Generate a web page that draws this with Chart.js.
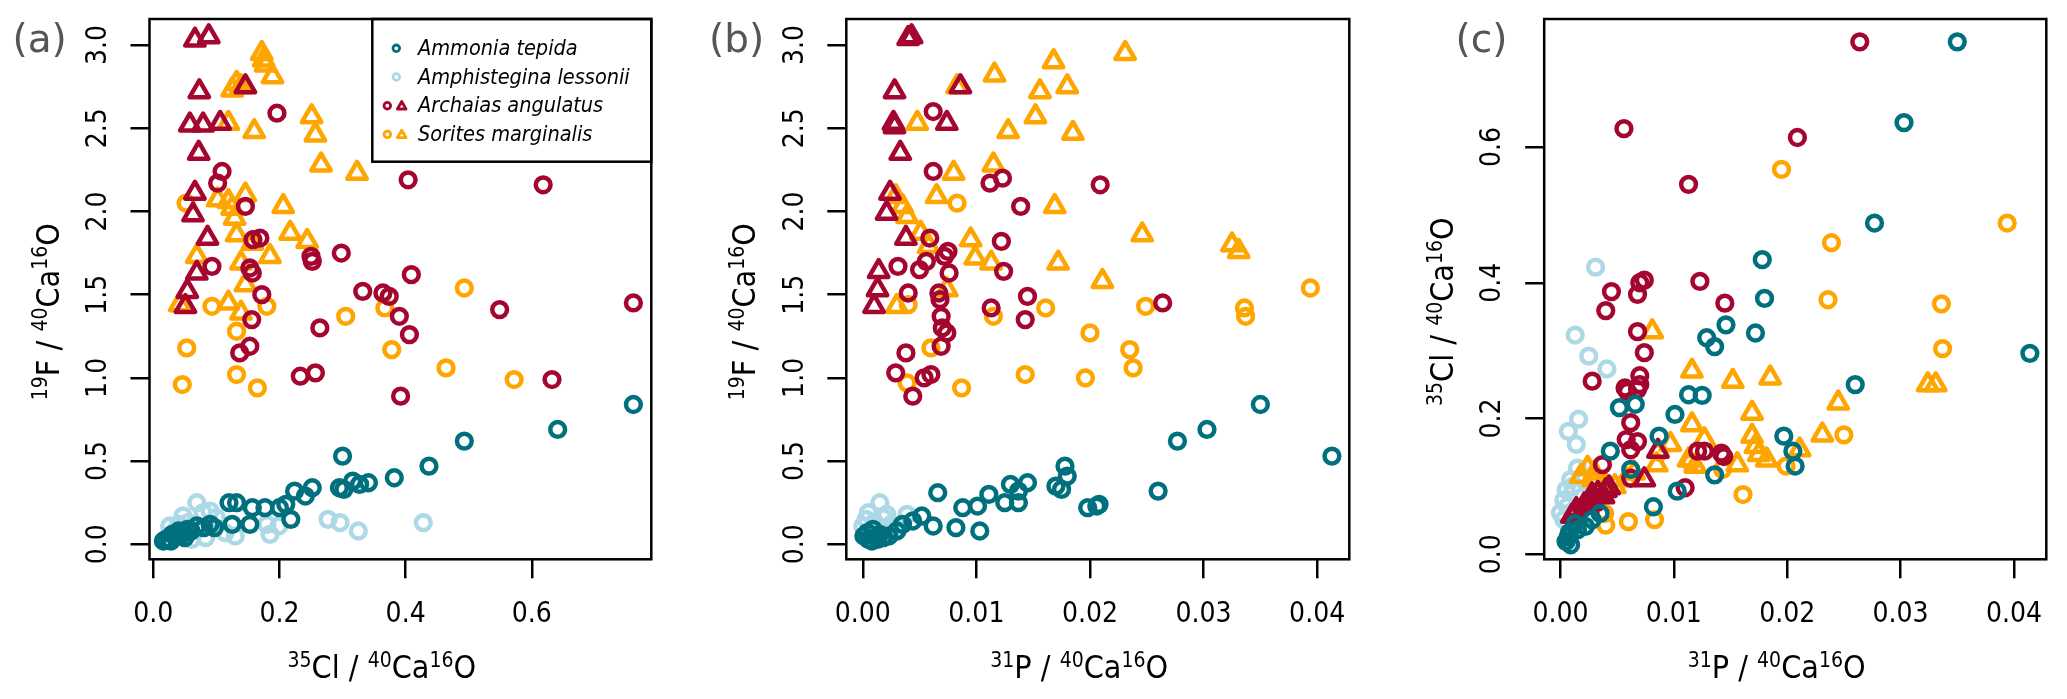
<!DOCTYPE html>
<html lang="en">
<head>
<meta charset="UTF-8">
<title>Foraminifera element ratios</title>
<script src="https://cdn.jsdelivr.net/npm/chart.js"></script>
<style>
  body {
    margin: 0;
    background: #fff;
    width: 2067px;
    height: 699px;
    overflow: hidden;
    position: relative;
  }
  .panel {
    position: absolute;
    top: 0;
    height: 699px;
  }
</style>
</head>
<body>

<div class="panel" id="panel-a"><canvas id="chart-a"></canvas></div>
<div class="panel" id="panel-b"><canvas id="chart-b"></canvas></div>
<div class="panel" id="panel-c"><canvas id="chart-c"></canvas></div>

<script>
// ---- data: panel (a)  x = 35Cl/40Ca16O, y = 19F/40Ca16O ----
const clF_ammonia = [[0.761,0.84],[0.641,0.69],[0.493,0.62],[0.437,0.47],[0.382,0.40],[0.300,0.53],
  [0.341,0.37],[0.327,0.36],[0.316,0.38],[0.302,0.33],[0.295,0.34],[0.252,0.34],[0.241,0.29],
  [0.224,0.32],[0.210,0.24],[0.218,0.15],[0.200,0.22],[0.177,0.22],[0.157,0.22],[0.132,0.25],
  [0.120,0.25],[0.153,0.12],[0.125,0.12],[0.097,0.10],[0.069,0.11],[0.054,0.09],[0.040,0.08],
  [0.030,0.06],[0.020,0.03],[0.016,0.02],[0.025,0.03],[0.035,0.05],[0.045,0.06],[0.060,0.08],
  [0.080,0.10],[0.090,0.12],[0.028,0.02],[0.050,0.04]];
const clF_amphistegina = [[0.069,0.25],[0.047,0.17],[0.079,0.19],[0.026,0.11],[0.040,0.12],[0.114,0.07],
  [0.185,0.06],[0.199,0.11],[0.277,0.15],[0.296,0.13],[0.325,0.08],[0.428,0.13],[0.061,0.03],
  [0.083,0.04],[0.180,0.12],[0.100,0.16],[0.035,0.08],[0.055,0.13],[0.090,0.20],[0.130,0.05]];
const clF_archaiasCirc = [[0.196,2.59],[0.109,2.24],[0.102,2.17],[0.146,2.03],[0.404,2.19],[0.618,2.16],
  [0.158,1.83],[0.169,1.84],[0.093,1.67],[0.153,1.66],[0.157,1.63],[0.250,1.73],[0.252,1.70],
  [0.298,1.75],[0.409,1.62],[0.172,1.50],[0.332,1.52],[0.364,1.51],[0.374,1.49],[0.549,1.41],
  [0.761,1.45],[0.156,1.35],[0.390,1.37],[0.406,1.26],[0.264,1.30],[0.137,1.15],[0.153,1.19],
  [0.233,1.01],[0.257,1.03],[0.632,0.99],[0.392,0.89]];
const clF_archaiasTri = [[0.066,3.03],[0.088,3.05],[0.073,2.72],[0.146,2.75],[0.058,2.52],[0.079,2.52],
  [0.106,2.53],[0.072,2.35],[0.066,2.11],[0.063,1.98],[0.086,1.84],[0.069,1.63],[0.054,1.52],[0.051,1.43]];
const clF_soritesCirc = [[0.052,2.05],[0.093,1.43],[0.180,1.43],[0.305,1.37],[0.367,1.42],[0.493,1.54],
  [0.132,1.28],[0.053,1.18],[0.378,1.17],[0.046,0.96],[0.132,1.02],[0.165,0.94],[0.464,1.06],[0.572,0.99]];
const clF_soritesTri = [[0.172,2.95],[0.175,2.91],[0.178,2.88],[0.189,2.81],[0.132,2.77],[0.125,2.73],
  [0.139,2.75],[0.119,2.53],[0.160,2.48],[0.251,2.57],[0.257,2.46],[0.266,2.28],[0.323,2.23],
  [0.102,2.07],[0.119,2.06],[0.125,2.02],[0.146,2.10],[0.206,2.03],[0.129,1.96],[0.132,1.86],
  [0.217,1.87],[0.244,1.82],[0.069,1.73],[0.139,1.69],[0.185,1.73],[0.146,1.56],[0.119,1.45],
  [0.042,1.44],[0.139,1.39],[0.157,1.81]];

// ---- data: panel (b)  x = 31P/40Ca16O, y = 19F/40Ca16O ----
const pF_ammonia = [[0.0413,0.53],[0.0350,0.84],[0.0303,0.69],[0.0277,0.62],[0.0260,0.32],[0.0178,0.47],
  [0.0180,0.41],[0.0175,0.33],[0.0170,0.35],[0.0198,0.22],[0.0206,0.23],[0.0208,0.24],[0.0145,0.37],
  [0.0130,0.36],[0.0137,0.32],[0.0137,0.25],[0.0125,0.25],[0.0111,0.30],[0.0101,0.23],[0.0088,0.22],
  [0.0066,0.31],[0.0082,0.10],[0.0103,0.08],[0.0062,0.11],[0.0052,0.17],[0.0044,0.14],[0.0035,0.12],
  [0.0023,0.05],[0.0013,0.03],[0.0005,0.03],[0.0001,0.05],[0.0009,0.09],[0.0008,0.02],[0.0015,0.06],
  [0.0030,0.08],[0.0004,0.07],[0.0018,0.04]];
const pF_amphistegina = [[0.0015,0.25],[0.0005,0.19],[0.0021,0.18],[0.0000,0.11],[0.0003,0.15],[0.0039,0.18],
  [0.0010,0.13],[0.0012,0.08],[0.0025,0.12],[0.0007,0.05],[0.0018,0.16],[0.0030,0.10]];
const pF_archaiasCirc = [[0.0062,2.60],[0.0062,2.24],[0.0112,2.17],[0.0123,2.20],[0.0209,2.16],[0.0139,2.03],
  [0.0059,1.84],[0.0122,1.82],[0.0075,1.76],[0.0072,1.73],[0.0056,1.70],[0.0050,1.65],[0.0031,1.67],
  [0.0076,1.63],[0.0124,1.64],[0.0040,1.51],[0.0067,1.51],[0.0068,1.47],[0.0145,1.49],[0.0264,1.45],
  [0.0113,1.42],[0.0069,1.37],[0.0070,1.30],[0.0074,1.27],[0.0143,1.35],[0.0038,1.15],[0.0029,1.03],
  [0.0054,1.00],[0.0060,1.02],[0.0044,0.89],[0.0069,1.19]];
const pF_archaiasTri = [[0.0040,3.04],[0.0043,3.05],[0.0028,2.72],[0.0086,2.75],[0.0027,2.53],[0.0028,2.51],
  [0.0074,2.53],[0.0033,2.35],[0.0024,2.11],[0.0021,1.99],[0.0038,1.84],[0.0014,1.64],[0.0013,1.53],[0.0010,1.43]];
const pF_soritesCirc = [[0.0083,2.05],[0.0040,1.44],[0.0161,1.42],[0.0249,1.43],[0.0336,1.42],[0.0337,1.37],
  [0.0394,1.54],[0.0115,1.37],[0.0200,1.27],[0.0235,1.17],[0.0060,1.18],[0.0238,1.06],[0.0143,1.02],
  [0.0196,1.00],[0.0087,0.94],[0.0039,0.97]];
const pF_soritesTri = [[0.0116,2.82],[0.0168,2.90],[0.0231,2.95],[0.0180,2.75],[0.0156,2.72],[0.0152,2.57],
  [0.0128,2.48],[0.0185,2.47],[0.0083,2.75],[0.0048,2.53],[0.0080,2.23],[0.0115,2.28],[0.0065,2.09],
  [0.0029,2.09],[0.0035,2.03],[0.0039,1.97],[0.0169,2.03],[0.0246,1.86],[0.0325,1.80],[0.0331,1.76],
  [0.0095,1.83],[0.0099,1.72],[0.0113,1.69],[0.0051,1.87],[0.0058,1.79],[0.0172,1.69],[0.0211,1.58],
  [0.0030,1.43],[0.0074,1.53]];

// ---- data: panel (c)  x = 31P/40Ca16O, y = 35Cl/40Ca16O ----
const pCl_ammonia = [[0.0350,0.755],[0.0303,0.636],[0.0277,0.488],[0.0178,0.434],[0.0180,0.377],[0.0146,0.338],
  [0.0172,0.326],[0.0129,0.319],[0.0136,0.306],[0.0414,0.296],[0.0260,0.250],[0.0113,0.235],[0.0125,0.234],
  [0.0052,0.216],[0.0066,0.221],[0.0101,0.206],[0.0087,0.174],[0.0197,0.174],[0.0205,0.152],[0.0207,0.130],
  [0.0044,0.152],[0.0062,0.125],[0.0136,0.117],[0.0103,0.093],[0.0082,0.070],[0.0022,0.041],[0.0015,0.036],
  [0.0007,0.026],[0.0005,0.019],[0.0009,0.014],[0.0028,0.051],[0.0013,0.045],[0.0035,0.060],[0.0008,0.032]];
const pCl_amphistegina = [[0.0031,0.423],[0.0013,0.323],[0.0025,0.292],[0.0041,0.273],[0.0016,0.199],
  [0.0007,0.181],[0.0014,0.162],[0.0015,0.127],[0.0009,0.110],[0.0005,0.095],[0.0003,0.080],[0.0000,0.061],
  [0.0003,0.051],[0.0011,0.100],[0.0020,0.085],[0.0006,0.070]];
const pCl_archaiasCirc = [[0.0264,0.755],[0.0056,0.627],[0.0209,0.614],[0.0113,0.545],[0.0074,0.404],
  [0.0070,0.400],[0.0123,0.402],[0.0045,0.387],[0.0068,0.383],[0.0040,0.359],[0.0145,0.370],[0.0068,0.328],
  [0.0074,0.297],[0.0028,0.255],[0.0070,0.263],[0.0070,0.250],[0.0068,0.243],[0.0057,0.245],[0.0059,0.240],
  [0.0062,0.194],[0.0058,0.169],[0.0068,0.166],[0.0062,0.154],[0.0121,0.152],[0.0127,0.152],[0.0142,0.149],
  [0.0144,0.144],[0.0062,0.112],[0.0110,0.098],[0.0037,0.132]];
const pCl_archaiasTri = [[0.0086,0.152],[0.0074,0.110],[0.0043,0.098],[0.0040,0.094],[0.0038,0.085],
  [0.0033,0.090],[0.0028,0.080],[0.0028,0.088],[0.0027,0.075],[0.0024,0.070],[0.0021,0.073],[0.0014,0.066],
  [0.0013,0.061],[0.0010,0.056]];
const pCl_soritesCirc = [[0.0195,0.567],[0.0239,0.459],[0.0394,0.488],[0.0236,0.375],[0.0336,0.369],
  [0.0337,0.303],[0.0250,0.176],[0.0199,0.130],[0.0161,0.088],[0.0083,0.051],[0.0060,0.048],[0.0040,0.043],
  [0.0115,0.135],[0.0143,0.125],[0.0087,0.150],[0.0039,0.060]];
const pCl_soritesTri = [[0.0116,0.270],[0.0152,0.255],[0.0185,0.260],[0.0324,0.250],[0.0331,0.250],
  [0.0245,0.223],[0.0169,0.208],[0.0116,0.191],[0.0231,0.176],[0.0169,0.174],[0.0172,0.159],[0.0127,0.169],
  [0.0097,0.162],[0.0211,0.154],[0.0175,0.147],[0.0182,0.139],[0.0113,0.139],[0.0119,0.130],[0.0156,0.132],
  [0.0085,0.132],[0.0024,0.127],[0.0030,0.120],[0.0018,0.115],[0.0081,0.328],[0.0065,0.120],[0.0058,0.110],
  [0.0048,0.100],[0.0039,0.105],[0.0029,0.110]];

// ---- axis ticks ----
const ticksF = [0, 0.5, 1.0, 1.5, 2.0, 2.5, 3.0];
const ticksCl = [0, 0.2, 0.4, 0.6];
const ticksP = [0, 0.01, 0.02, 0.03, 0.04];

const speciesNames = ['Ammonia tepida', 'Amphistegina lessonii', 'Archaias angulatus', 'Sorites marginalis'];

// ---- styles ----
const TEAL = '#00707E';
const LIGHTBLUE = '#ADD8E6';
const DARKRED = '#A50630';
const ORANGE = '#FFA500';
const FONT = "'DejaVu Sans Condensed', 'DejaVu Sans', sans-serif";
const BOX_TOP = 19;
const BOX_BOTTOM = 559.3;
const H = 699;

function series(data, color, shape, order) {
  const tri = shape === 'triangle';
  return {
    data: data.map(p => ({x: p[0], y: p[1]})),
    pointStyle: shape,
    pointRadius: tri ? 11.2 : 7.4,
    pointBorderWidth: 4.5,
    pointBorderColor: color,
    pointBackgroundColor: 'rgba(0,0,0,0)',
    showLine: false,
    order: order
  };
}

function drawRich(ctx, parts, cx, cy, angle) {
  const main = '32px ' + FONT;
  const sup = '21px ' + FONT;
  ctx.save();
  ctx.translate(cx, cy);
  ctx.rotate(angle);
  ctx.fillStyle = '#000';
  ctx.textAlign = 'left';
  ctx.textBaseline = 'alphabetic';
  let total = 0;
  parts.forEach(p => { ctx.font = p[1] ? sup : main; total += ctx.measureText(p[0]).width; });
  let x = -total / 2;
  parts.forEach(p => {
    ctx.font = p[1] ? sup : main;
    ctx.fillText(p[0], x, p[1] ? -11.5 : 0);
    x += ctx.measureText(p[0]).width;
  });
  ctx.restore();
}

function drawLegend(ctx, area) {
  const left = 373.3, bottom = 161.7;
  ctx.save();
  ctx.fillStyle = '#fff';
  ctx.fillRect(left, area.top, area.right - left, bottom - area.top);
  ctx.lineWidth = 2.5;
  ctx.strokeStyle = '#000';
  ctx.strokeRect(left, area.top, area.right - left, bottom - area.top);
  const colors = [TEAL, LIGHTBLUE, DARKRED, ORANGE];
  ctx.lineJoin = 'round';
  speciesNames.forEach((name, i) => {
    const y = 48.3 + i * 28.7;
    ctx.strokeStyle = colors[i];
    ctx.fillStyle = 'rgba(0,0,0,0)';
    ctx.lineWidth = 2.8;
    if (i < 2) {
      Chart.helpers.drawPoint(ctx, {pointStyle: 'circle', radius: 3.3, borderWidth: 2.8, rotation: 0}, 397.3, y);
    } else {
      Chart.helpers.drawPoint(ctx, {pointStyle: 'circle', radius: 3.3, borderWidth: 2.8, rotation: 0}, 388.3, y);
      Chart.helpers.drawPoint(ctx, {pointStyle: 'triangle', radius: 5, borderWidth: 2.8, rotation: 0}, 402.7, y + 0.8);
    }
    ctx.fillStyle = '#000';
    ctx.font = 'italic 21.5px ' + FONT;
    ctx.textAlign = 'left';
    ctx.textBaseline = 'middle';
    ctx.fillText(name, 419, y + 1);
  });
  ctx.restore();
}

const framePlugin = {
  id: 'frame',
  beforeDatasetsDraw(chart) {
    chart.ctx.save();
    chart.ctx.lineJoin = 'round';
  },
  afterDatasetsDraw(chart) {
    chart.ctx.restore();
  },
  afterDraw(chart, args, opts) {
    const ctx = chart.ctx;
    const a = chart.chartArea;
    ctx.save();
    if (opts.legend) drawLegend(ctx, a);
    ctx.lineWidth = 2.5;
    ctx.strokeStyle = '#000';
    ctx.strokeRect(a.left, a.top, a.right - a.left, a.bottom - a.top);
    drawRich(ctx, opts.xTitle, (a.left + a.right) / 2 - 18.6, a.bottom + 119, 0);
    drawRich(ctx, opts.yTitle, a.left - 91, (a.top + a.bottom) / 2 + 22.5, -Math.PI / 2);
    ctx.font = "39px 'DejaVu Sans', sans-serif";
    ctx.fillStyle = '#555555';
    ctx.textAlign = 'left';
    ctx.textBaseline = 'alphabetic';
    ctx.fillText(opts.letter, a.left + opts.letterDx, 51.5);
    ctx.restore();
  }
};

function makePanel(key, p) {
  const canvasLeft = Math.floor(p.boxL - 150);
  const canvasRight = Math.ceil(p.boxR + 15);
  const width = canvasRight - canvasLeft;
  const div = document.getElementById('panel-' + key);
  div.style.left = canvasLeft + 'px';
  div.style.width = width + 'px';
  const canvas = document.getElementById('chart-' + key);
  canvas.width = width;
  canvas.height = H;
  canvas.style.width = width + 'px';
  canvas.style.height = H + 'px';

  const tickFont = {family: FONT, size: 28};
  const gridOpts = {drawOnChartArea: false, drawTicks: true, tickLength: 19, tickWidth: 2.5, tickColor: '#000', lineWidth: 2.5, color: '#000'};

  return new Chart(canvas, {
    type: 'scatter',
    data: {datasets: p.datasets},
    options: {
      responsive: false,
      devicePixelRatio: 1,
      animation: false,
      events: [],
      layout: {padding: {left: 0, top: BOX_TOP, right: canvasRight - p.boxR, bottom: 0}},
      plugins: {
        legend: {display: false},
        tooltip: {enabled: false},
        frame: {xTitle: p.xTitle, yTitle: p.yTitle, letter: p.letter, letterDx: p.letterDx, legend: p.legend}
      },
      scales: {
        x: {
          type: 'linear',
          min: p.xMin, max: p.xMax,
          grid: gridOpts,
          border: {display: false},
          afterBuildTicks: s => { s.ticks = p.xTicks.map(v => ({value: v})); },
          afterFit: s => { s.height = H - BOX_BOTTOM; s.paddingLeft = 0; s.paddingRight = 0; },
          ticks: {
            font: tickFont, color: '#000', padding: 20, maxRotation: 0, minRotation: 0,
            callback: v => Number(v).toFixed(p.xDec)
          }
        },
        y: {
          type: 'linear',
          min: p.yMin, max: p.yMax,
          grid: gridOpts,
          border: {display: false},
          afterBuildTicks: s => { s.ticks = p.yTicks.map(v => ({value: v})); },
          afterFit: s => { s.width = p.boxL - canvasLeft; s.paddingTop = 0; s.paddingBottom = 0; },
          ticks: {
            font: tickFont, color: '#000', padding: 12, minRotation: 90, maxRotation: 90, crossAlign: 'center',
            callback: v => Number(v).toFixed(p.yDec)
          }
        }
      }
    },
    plugins: [framePlugin]
  });
}

function speciesSets(amm, amph, archC, archT, sorC, sorT) {
  return [
    series(amm, TEAL, 'circle', 0),
    series(archT, DARKRED, 'triangle', 1),
    series(archC, DARKRED, 'circle', 2),
    series(sorT, ORANGE, 'triangle', 3),
    series(sorC, ORANGE, 'circle', 4),
    series(amph, LIGHTBLUE, 'circle', 5)
  ];
}

const titleCl = [['35', 1], ['Cl / ', 0], ['40', 1], ['Ca', 0], ['16', 1], ['O', 0]];
const titleP = [['31', 1], ['P / ', 0], ['40', 1], ['Ca', 0], ['16', 1], ['O', 0]];
const titleF = [['19', 1], ['F / ', 0], ['40', 1], ['Ca', 0], ['16', 1], ['O', 0]];

makePanel('a', {
  boxL: 149.5, boxR: 651.7,
  xMin: -0.006, xMax: 0.7894, yMin: -0.090, yMax: 3.156,
  xTicks: ticksCl, yTicks: ticksF, xDec: 1, yDec: 1,
  xTitle: titleCl, yTitle: titleF, letter: '(a)', letterDx: -137, legend: true,
  datasets: speciesSets(clF_ammonia, clF_amphistegina, clF_archaiasCirc, clF_archaiasTri, clF_soritesCirc, clF_soritesTri)
});

makePanel('b', {
  boxL: 846.3, boxR: 1349.4,
  xMin: -0.00145, xMax: 0.04283, yMin: -0.090, yMax: 3.156,
  xTicks: ticksP, yTicks: ticksF, xDec: 2, yDec: 1,
  xTitle: titleP, yTitle: titleF, letter: '(b)', letterDx: -137.3, legend: false,
  datasets: speciesSets(pF_ammonia, pF_amphistegina, pF_archaiasCirc, pF_archaiasTri, pF_soritesCirc, pF_soritesTri)
});

makePanel('c', {
  boxL: 1544.2, boxR: 2046.9,
  xMin: -0.00143, xMax: 0.04285, yMin: -0.0074, yMax: 0.7886,
  xTicks: ticksP, yTicks: ticksCl, xDec: 2, yDec: 1,
  xTitle: titleP, yTitle: titleCl, letter: '(c)', letterDx: -88.7, legend: false,
  datasets: speciesSets(pCl_ammonia, pCl_amphistegina, pCl_archaiasCirc, pCl_archaiasTri, pCl_soritesCirc, pCl_soritesTri)
});
</script>
</body>
</html>
